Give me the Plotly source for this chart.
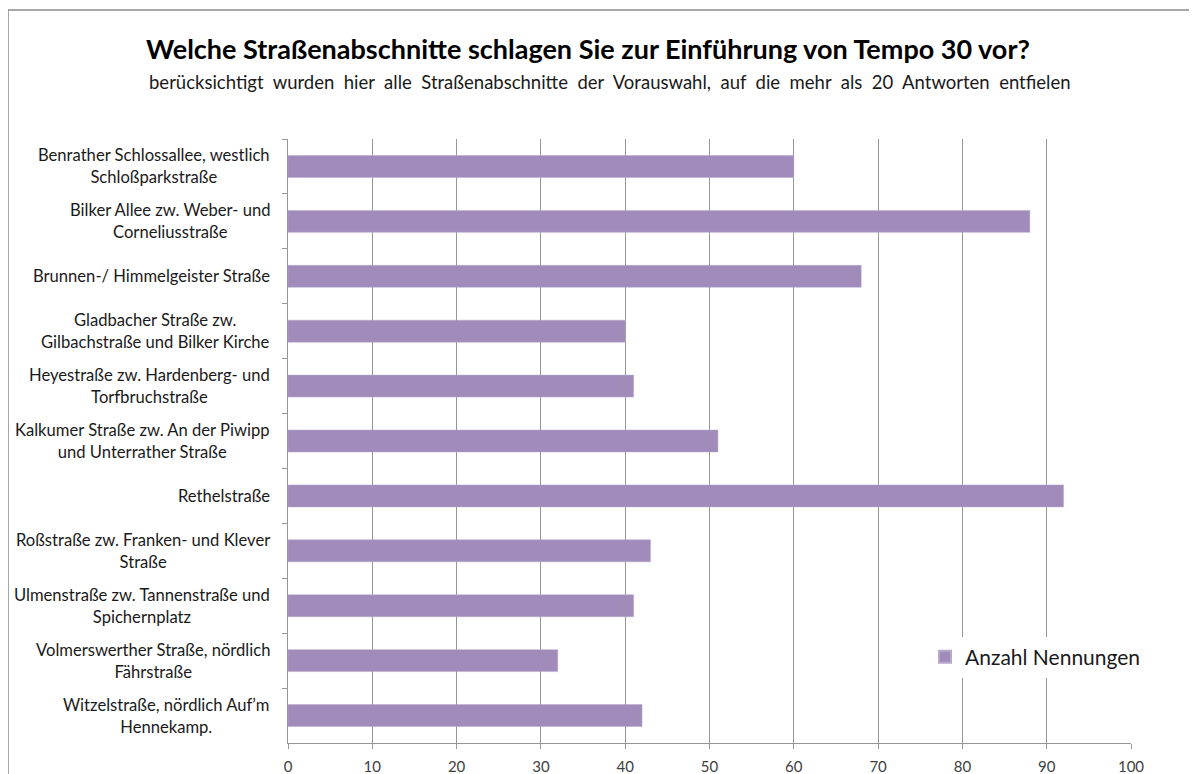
import plotly.graph_objects as go

categories = [
    "Benrather Schlossallee, westlich<br>Schloßparkstraße",
    "Bilker Allee zw. Weber- und<br>Corneliusstraße",
    "Brunnen-/ Himmelgeister Straße",
    "Gladbacher Straße zw.<br>Gilbachstraße und Bilker Kirche",
    "Heyestraße zw. Hardenberg- und<br>Torfbruchstraße",
    "Kalkumer Straße zw. An der Piwipp<br>und Unterrather Straße",
    "Rethelstraße",
    "Roßstraße zw. Franken- und Klever<br>Straße",
    "Ulmenstraße zw. Tannenstraße und<br>Spichernplatz",
    "Volmerswerther Straße, nördlich<br>Fährstraße",
    "Witzelstraße, nördlich Auf’m<br>Hennekamp.",
]
values = [60, 88, 68, 40, 41, 51, 92, 43, 41, 32, 42]
tick_values = [0, 10, 20, 30, 40, 50, 60, 70, 80, 90, 100]
series_name = "Anzahl Nennungen"
title_text = "Welche Straßenabschnitte schlagen Sie zur Einführung von Tempo 30 vor?"
subtitle_text = "berücksichtigt  wurden  hier  alle  Straßenabschnitte  der  Vorauswahl,  auf  die  mehr  als  20  Antworten  entfielen"

FONT = "Lato"
OFF = 8  # page body margin
W, H = 1197 - OFF, 774 - OFF
L, R, T, B = 288 - OFF, 66, 139 - OFF, 31
pw, ph = W - L - R, H - T - B

def px_x(p):
    return (p - OFF - L) / pw

def px_y(p):
    return (H - B - (p - OFF)) / ph

fig = go.Figure()
fig.add_trace(go.Bar(
    y=categories, x=values, orientation="h", name=series_name,
    marker=dict(color="#A08BBA", line=dict(color="#B7A8CC", width=0.5)),
    width=0.4, showlegend=True,
))

annotations = []
for c in categories:
    annotations.append(dict(
        x=0, xref="paper", y=c, yref="y", xanchor="right", yanchor="middle",
        xshift=-16, align="center", showarrow=False, text=c,
        font=dict(family=FONT, size=16.6, color="#1a1a1a"),
    ))
annotations.append(dict(
    x=px_x(588), xref="paper", y=px_y(48), yref="paper", xanchor="center", yanchor="middle",
    showarrow=False, text="<b>" + title_text + "</b>",
    font=dict(family=FONT, size=27, color="#000000"),
))
annotations.append(dict(
    x=px_x(610), xref="paper", y=px_y(82), yref="paper", xanchor="center", yanchor="middle",
    showarrow=False, text=subtitle_text,
    font=dict(family=FONT, size=18.5, color="#1a1a1a"),
))

fig.update_layout(
    width=W, height=H,
    margin=dict(l=L, r=R, t=T, b=B, autoexpand=False),
    paper_bgcolor="white", plot_bgcolor="white",
    font=dict(family=FONT),
    annotations=annotations,
    legend=dict(
        x=px_x(925), y=px_y(657), xanchor="left", yanchor="middle",
        bgcolor="white", font=dict(family=FONT, size=21, color="#1a1a1a"),
        itemsizing="constant", itemwidth=30,
    ),
    shapes=[dict(
        type="rect", xref="paper", yref="paper",
        x0=px_x(8), x1=px_x(1215), y0=px_y(800), y1=px_y(10),
        line=dict(color="#8c8c8c", width=1.5), fillcolor="rgba(0,0,0,0)", layer="below",
    )],
    bargap=0.6,
)
fig.update_xaxes(
    range=[0, 100], tickvals=tick_values, ticktext=[str(v) for v in tick_values],
    showgrid=True, gridcolor="#969696", gridwidth=1,
    showline=True, linecolor="#969696", linewidth=1, automargin=False,
    ticks="outside", ticklen=5, tickcolor="#969696", ticklabelstandoff=5,
    tickfont=dict(family=FONT, size=15, color="#404040"), zeroline=False,
)
fig.update_yaxes(
    type="category", autorange="reversed", showticklabels=False, automargin=False,
    showline=True, linecolor="#969696", linewidth=1,
    ticks="outside", ticklen=5, tickcolor="#969696", tickson="boundaries",
    showgrid=False,
)

fig.write_html("out.html")
